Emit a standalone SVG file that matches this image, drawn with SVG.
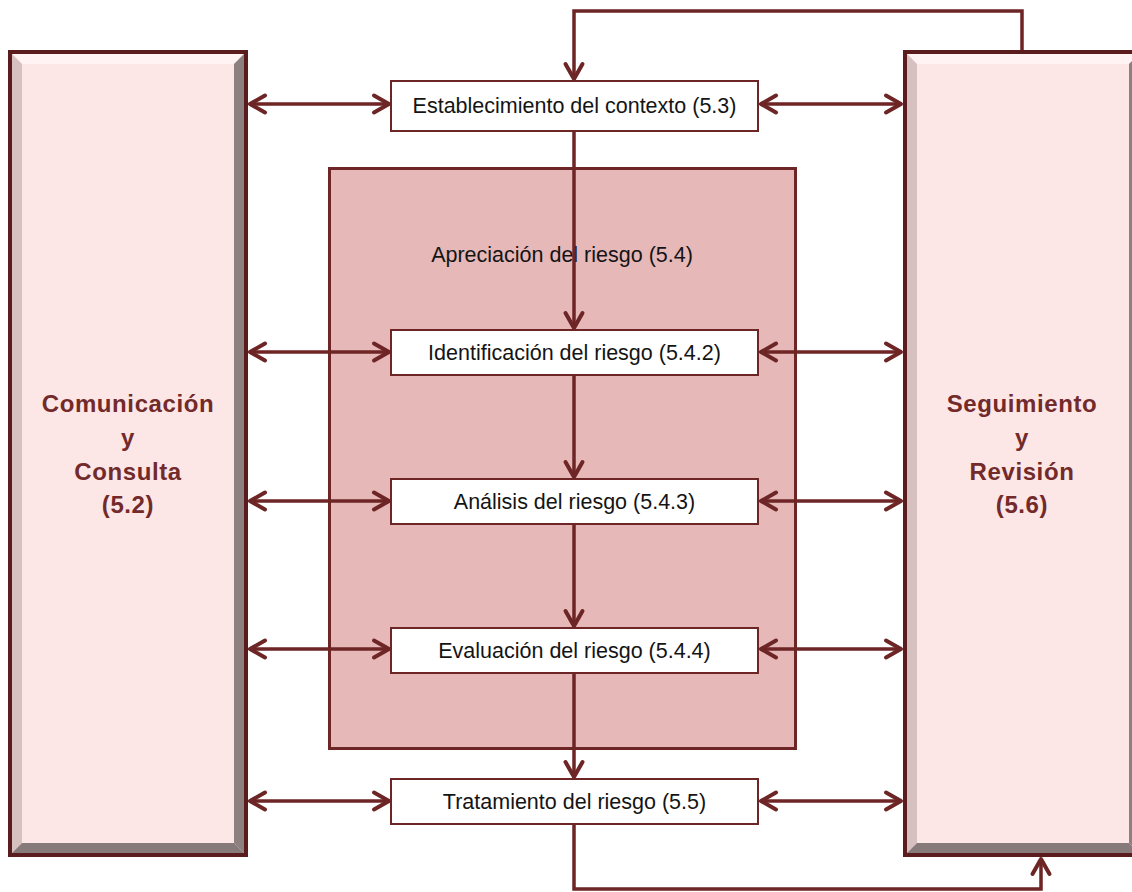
<svg xmlns="http://www.w3.org/2000/svg" width="1132" height="892" viewBox="0 0 1132 892">
  <defs>
    <style>
      .lbl { font-family: "Liberation Sans", Arial, sans-serif; font-size: 21.5px; fill: #141414; text-anchor: middle; }
      .big { font-family: "Liberation Sans", Arial, sans-serif; font-size: 24px; font-weight: bold; fill: #722a2a; text-anchor: middle; letter-spacing: 0.6px; }
      .step { fill: #ffffff; stroke: #6d2525; stroke-width: 2; }
      .frame { fill: #5a1c1c; }
      .face { fill: #fde6e6; }
      .bev-t { fill: #fff3f3; }
      .bev-l { fill: #d6c0c0; }
      .bev-r { fill: #8f8080; }
      .bev-b { fill: #877a7a; }
      .wire { fill: none; stroke: #6d2525; stroke-width: 3.5; stroke-linejoin: miter; }
    </style>
    <marker id="head" viewBox="-20 -12 24 24" markerWidth="24" markerHeight="24" refX="0" refY="0" markerUnits="userSpaceOnUse" orient="auto-start-reverse">
      <path d="M -15 -8.5 L 0 0 L -15 8.5" fill="none" stroke="#6d2525" stroke-width="4" stroke-linecap="round" stroke-linejoin="round"/>
    </marker>
  </defs>

  <rect width="1132" height="892" fill="#ffffff"/>

  <!-- Left bevelled panel -->
  <g id="comunicacion">
    <rect class="frame" x="8" y="50" width="240" height="807"/>
    <rect class="face" x="12" y="54" width="232" height="799"/>
    <polygon class="bev-t" points="12,54 244,54 234,64 22,64"/>
    <polygon class="bev-l" points="12,54 22,64 22,843 12,853"/>
    <polygon class="bev-r" points="244,54 244,853 234,843 234,64"/>
    <polygon class="bev-b" points="12,853 244,853 234,843 22,843"/>
    <text class="big" x="128" y="412">Comunicación</text>
    <text class="big" x="128" y="446">y</text>
    <text class="big" x="128" y="480">Consulta</text>
    <text class="big" x="128" y="513">(5.2)</text>
  </g>

  <!-- Right bevelled panel -->
  <g id="seguimiento">
    <rect class="frame" x="903" y="50" width="240" height="807"/>
    <rect class="face" x="907" y="54" width="232" height="799"/>
    <polygon class="bev-t" points="907,54 1139,54 1129,64 917,64"/>
    <polygon class="bev-l" points="907,54 917,64 917,843 907,853"/>
    <polygon class="bev-r" points="1139,54 1139,853 1129,843 1129,64"/>
    <polygon class="bev-b" points="907,853 1139,853 1129,843 917,843"/>
    <text class="big" x="1022" y="412">Seguimiento</text>
    <text class="big" x="1022" y="446">y</text>
    <text class="big" x="1022" y="480">Revisión</text>
    <text class="big" x="1022" y="513">(5.6)</text>
  </g>

  <!-- Risk assessment container -->
  <g id="apreciacion">
    <rect x="329.5" y="168.5" width="466" height="580" fill="#e6b8b8" stroke="#6d2525" stroke-width="3"/>
    <text class="lbl" x="562" y="262">Apreciación del riesgo (5.4)</text>
  </g>

  <g id="establecimiento">
    <rect class="step" x="391" y="81" width="367" height="50"/>
    <text class="lbl" x="574.5" y="113">Establecimiento del contexto (5.3)</text>
  </g>
  <g id="identificacion">
    <rect class="step" x="391" y="330" width="367" height="45"/>
    <text class="lbl" x="574.5" y="360">Identificación del riesgo (5.4.2)</text>
  </g>
  <g id="analisis">
    <rect class="step" x="391" y="479" width="367" height="45"/>
    <text class="lbl" x="574.5" y="509">Análisis del riesgo (5.4.3)</text>
  </g>
  <g id="evaluacion">
    <rect class="step" x="391" y="628" width="367" height="45"/>
    <text class="lbl" x="574.5" y="658">Evaluación del riesgo (5.4.4)</text>
  </g>
  <g id="tratamiento">
    <rect class="step" x="391" y="779" width="367" height="45"/>
    <text class="lbl" x="574.5" y="809">Tratamiento del riesgo (5.5)</text>
  </g>

  <!-- Connectors -->
  <g id="connectors">
    <!-- main flow -->
    <line class="wire" x1="574" y1="131" x2="574" y2="328" marker-end="url(#head)"/>
    <line class="wire" x1="574" y1="376" x2="574" y2="477" marker-end="url(#head)"/>
    <line class="wire" x1="574" y1="525" x2="574" y2="626" marker-end="url(#head)"/>
    <line class="wire" x1="574" y1="674" x2="574" y2="777" marker-end="url(#head)"/>

    <!-- monitoring loops -->
    <polyline class="wire" points="1022,50 1022,11 574,11 574,79" marker-end="url(#head)"/>
    <polyline class="wire" points="574,825 574,889 1041,889 1041,859" marker-end="url(#head)"/>

    <!-- communication links (left) -->
    <line class="wire" x1="250" y1="104" x2="389" y2="104" marker-start="url(#head)" marker-end="url(#head)"/>
    <line class="wire" x1="250" y1="352" x2="389" y2="352" marker-start="url(#head)" marker-end="url(#head)"/>
    <line class="wire" x1="250" y1="501" x2="389" y2="501" marker-start="url(#head)" marker-end="url(#head)"/>
    <line class="wire" x1="250" y1="649" x2="389" y2="649" marker-start="url(#head)" marker-end="url(#head)"/>
    <line class="wire" x1="250" y1="801" x2="389" y2="801" marker-start="url(#head)" marker-end="url(#head)"/>

    <!-- review links (right) -->
    <line class="wire" x1="761" y1="104" x2="901" y2="104" marker-start="url(#head)" marker-end="url(#head)"/>
    <line class="wire" x1="761" y1="352" x2="901" y2="352" marker-start="url(#head)" marker-end="url(#head)"/>
    <line class="wire" x1="761" y1="501" x2="901" y2="501" marker-start="url(#head)" marker-end="url(#head)"/>
    <line class="wire" x1="761" y1="649" x2="901" y2="649" marker-start="url(#head)" marker-end="url(#head)"/>
    <line class="wire" x1="761" y1="801" x2="901" y2="801" marker-start="url(#head)" marker-end="url(#head)"/>
  </g>
</svg>
